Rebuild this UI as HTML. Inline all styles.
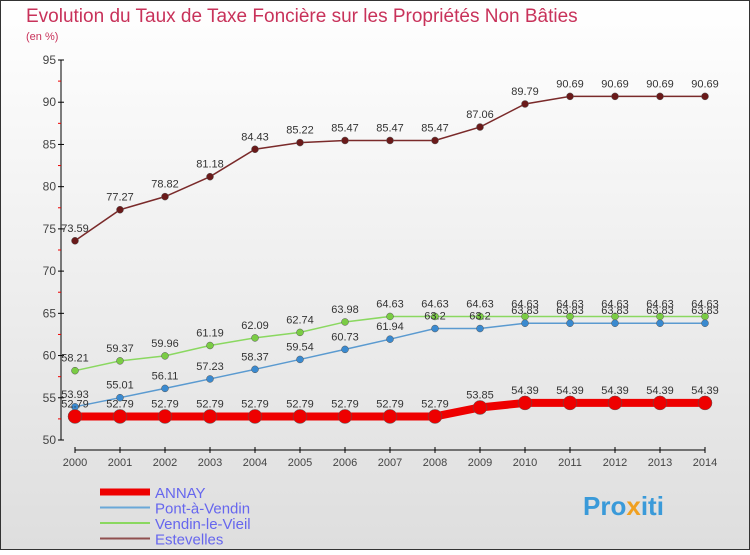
<!DOCTYPE html>
<html><head><meta charset="utf-8"><style>
body{margin:0;width:750px;height:550px;overflow:hidden;font-family:"Liberation Sans",sans-serif}
svg text{font-family:"Liberation Sans",sans-serif}
</style></head><body>
<svg id="chart" width="750" height="550">
<defs><linearGradient id="bg" x1="0" y1="0" x2="0" y2="1"><stop offset="0" stop-color="#ffffff"/><stop offset="1" stop-color="#dedede"/></linearGradient></defs>
<rect x="0.5" y="0.5" width="749" height="549" fill="url(#bg)" stroke="#333"/>
<text x="26" y="22" font-size="19" fill="#c8325a">Evolution du Taux de Taxe Foncière sur les Propriétés Non Bâties</text>
<text x="26" y="40" font-size="11" fill="#c8325a">(en %)</text>
<g id="axes"></g>
<g id="series"></g>
<g id="legend"></g>
<text x="583" y="515" font-size="26" font-weight="bold" fill="#3a9ad9">Pro<tspan fill="#f0a020">x</tspan>iti</text>
</svg>
<script>
const years=[2000,2001,2002,2003,2004,2005,2006,2007,2008,2009,2010,2011,2012,2013,2014];
const yTicks=[50,55,60,65,70,75,80,85,90,95];
const annay=[52.79,52.79,52.79,52.79,52.79,52.79,52.79,52.79,52.79,53.85,54.39,54.39,54.39,54.39,54.39];
const pont=[53.93,55.01,56.11,57.23,58.37,59.54,60.73,61.94,63.2,63.2,63.83,63.83,63.83,63.83,63.83];
const vendin=[58.21,59.37,59.96,61.19,62.09,62.74,63.98,64.63,64.63,64.63,64.63,64.63,64.63,64.63,64.63];
const estev=[73.59,77.27,78.82,81.18,84.43,85.22,85.47,85.47,85.47,87.06,89.79,90.69,90.69,90.69,90.69];
const NS="http://www.w3.org/2000/svg";
const xs=i=>75+(i)*(630/(years.length-1));
const ys=v=>440-(v-50)*(380/45);
function mk(t,a,p){const e=document.createElementNS(NS,t);for(const k in a)e.setAttribute(k,a[k]);p.appendChild(e);return e;}
const ax=document.getElementById('axes');
let l=mk('line',{x1:61,y1:60,x2:61,y2:440,stroke:'#000'},ax);


yTicks.forEach(v=>{mk('line',{x1:58,x2:64,y1:ys(v),y2:ys(v),stroke:'#000'},ax);
 if(v<95)mk('line',{x1:58,x2:61,y1:ys(v+2.5),y2:ys(v+2.5),stroke:'#e00'},ax);
 const t=mk('text',{x:56,y:ys(v)+4,'text-anchor':'end','font-size':12,fill:'#444'},ax);t.textContent=v;
 
 });
l=mk('line',{x1:75,y1:450,x2:705,y2:450,stroke:'#000'},ax);


years.forEach((y,i)=>{mk('line',{x1:xs(i),x2:xs(i),y1:447,y2:453,stroke:'#000'},ax);
 const t=mk('text',{x:xs(i),y:466,'text-anchor':'middle','font-size':11,fill:'#444'},ax);t.textContent=y;
 
 });
const sg=document.getElementById('series');
function draw(d,col,w,r,name,dot){
 const g=mk('g',{},sg);
 
 
 mk('polyline',{points:d.map((v,i)=>xs(i)+','+ys(v)).join(' '),fill:'none',stroke:col,'stroke-width':w},g);
 d.forEach((v,i)=>{const c=mk('circle',{cx:xs(i),cy:ys(v),r:r,fill:dot,stroke:'#555','stroke-width':0.5},g);
  
  
  const t=mk('text',{x:xs(i),y:ys(v)-9,'text-anchor':'middle','font-size':11,fill:'#333'},g);t.textContent=String(v).replace('.','.');
  
  });
}
draw(estev,'#7a2a2a',1.5,3.5,'estevelles-series','#6a1a1a');
draw(vendin,'#8ad860',1.5,3.5,'vendin-le-vieil-series','#7acc44');
draw(pont,'#5a9ad0',1.5,3.5,'pont-a-vendin-series','#3a8ad0');
draw(annay,'#ee0000',8,7,'annay-series','#ee0000');
const lg=document.getElementById('legend');
[['ANNAY','#ee0000',7],['Pont-à-Vendin','#6aa8d8',2],['Vendin-le-Vieil','#8ad860',2],['Estevelles','#905050',2]].forEach((s,i)=>{
 const y=492+i*15.5;
 const g=mk('g',{},lg);
 
 
 mk('line',{x1:100,x2:150,y1:y,y2:y,stroke:s[1],'stroke-width':s[2]},g);
 const t=mk('text',{x:155,y:y+6,'font-size':15,fill:'#6666ee'},g);t.textContent=s[0];
});
</script>
</body></html>
